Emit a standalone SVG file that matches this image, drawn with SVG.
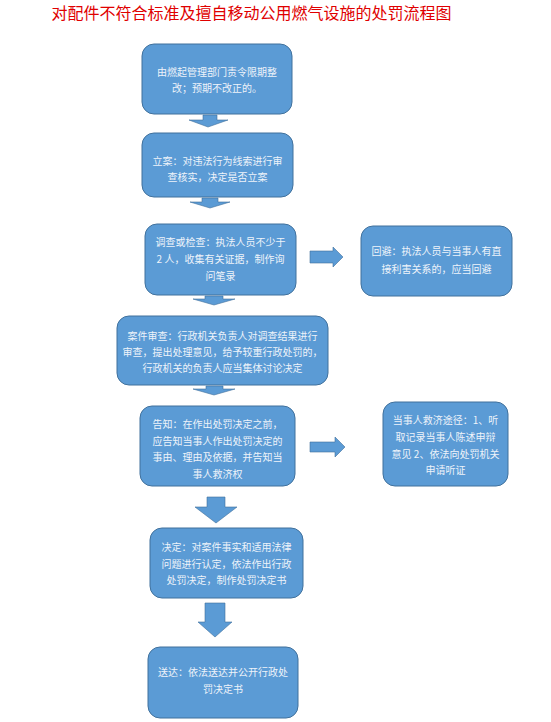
<svg xmlns="http://www.w3.org/2000/svg" width="551" height="722" viewBox="0 0 551 722">
<style>
.box{fill:#5b9bd5;stroke:#41719c;stroke-width:1}
.arr{fill:#5b9bd5;stroke:#41719c;stroke-width:0.6}
.t{font-family:"Noto Sans CJK SC","Noto Sans CJK JP",sans-serif;font-size:10px;fill:#eef3fa;text-anchor:middle}
.title{font-family:"Noto Sans CJK SC","Noto Sans CJK JP",sans-serif;font-size:16px;fill:#e00000;text-anchor:middle}
</style>
<rect width="551" height="722" fill="#fff"/>
<text class="title" x="251.5" y="19">对配件不符合标准及擅自移动公用燃气设施的处罚流程图</text>

<g id="connectors">
<path class="arr" d="M203,115 H217 V120 H228 L208,127 L189,120 H203 Z"/>
<path class="arr" d="M202,198 H218 V202 H230 L210,208 L190,202 H202 Z"/>
<path class="arr" d="M205,296 H223 V299 H235 L214,305 L193,299 H205 Z"/>
<path class="arr" d="M206,386 H223 V389 H235 L214,395 L193,389 H206 Z"/>
<path class="arr" d="M207,497 H225 V507 H237 L216,523 L195,507 H207 Z"/>
<path class="arr" d="M205,603 H225 V622 H232 L215,637 L198,622 H205 Z"/>
<path class="arr" d="M310,251 H333 V247 L343,257 L333,267 V263 H310 Z"/>
<path class="arr" d="M310,442 H335 V437 L345,447 L335,457 V452 H310 Z"/>
</g>

<g id="n1">
<rect class="box" x="142" y="44" width="150" height="70" rx="12"/>
<text class="t" x="217" y="76">由燃起管理部门责令限期整</text>
<text class="t" x="217" y="92">改；预期不改正的。</text>
</g>
<g id="n2">
<rect class="box" x="142" y="133" width="151" height="64" rx="12"/>
<text class="t" x="217.5" y="165">立案：对违法行为线索进行审</text>
<text class="t" x="217.5" y="181">查核实，决定是否立案</text>
</g>
<g id="n3">
<rect class="box" x="145" y="224" width="151" height="71" rx="12"/>
<text class="t" x="220.5" y="246">调查或检查：执法人员不少于</text>
<text class="t" x="220.5" y="263">2 人，收集有关证据，制作询</text>
<text class="t" x="220.5" y="280">问笔录</text>
</g>
<g id="n3b">
<rect class="box" x="361" y="226" width="151" height="70" rx="12"/>
<text class="t" x="436.5" y="255">回避：执法人员与当事人有直</text>
<text class="t" x="436.5" y="273">接利害关系的，应当回避</text>
</g>
<g id="n4">
<rect class="box" x="117" y="316" width="211" height="69" rx="12"/>
<text class="t" x="222.5" y="340">案件审查：行政机关负责人对调查结果进行</text>
<text class="t" x="222.5" y="356">审查，提出处理意见，给予较重行政处罚的，</text>
<text class="t" x="222.5" y="372">行政机关的负责人应当集体讨论决定</text>
</g>
<g id="n5">
<rect class="box" x="140" y="406" width="155" height="80" rx="12"/>
<text class="t" x="217.5" y="428">告知：在作出处罚决定之前，</text>
<text class="t" x="217.5" y="445">应告知当事人作出处罚决定的</text>
<text class="t" x="217.5" y="461">事由、理由及依据，并告知当</text>
<text class="t" x="217.5" y="478">事人救济权</text>
</g>
<g id="n5b">
<rect class="box" x="383" y="402" width="125" height="84" rx="12"/>
<text class="t" x="445.5" y="424">当事人救济途径：1、听</text>
<text class="t" x="445.5" y="441">取记录当事人陈述申辩</text>
<text class="t" x="445.5" y="458">意见 2、依法向处罚机关</text>
<text class="t" x="445.5" y="474">申请听证</text>
</g>
<g id="n6">
<rect class="box" x="150" y="528" width="153" height="70" rx="12"/>
<text class="t" x="226.5" y="551">决定：对案件事实和适用法律</text>
<text class="t" x="226.5" y="568">问题进行认定，依法作出行政</text>
<text class="t" x="226.5" y="584">处罚决定，制作处罚决定书</text>
</g>
<g id="n7">
<rect class="box" x="148" y="647" width="150" height="71" rx="12"/>
<text class="t" x="223" y="676">送达：依法送达并公开行政处</text>
<text class="t" x="223" y="693">罚决定书</text>
</g>
</svg>
